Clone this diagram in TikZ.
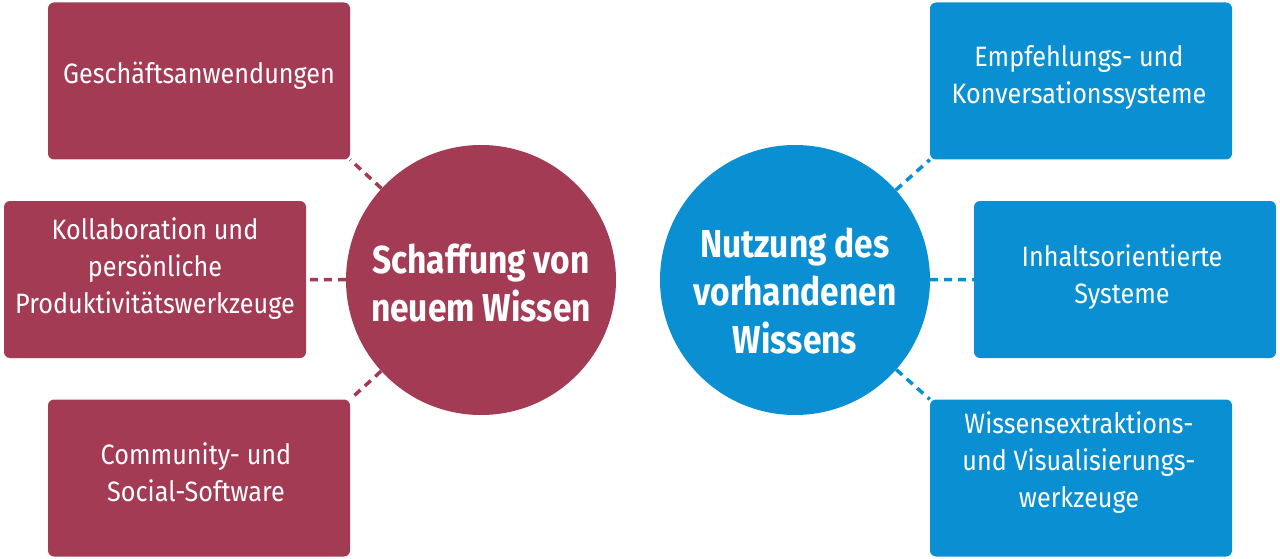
\documentclass[tikz,border=0pt]{standalone}
\usepackage{fontspec}
\setmainfont{Fira Sans}[FakeStretch=0.86]
\newfontfamily\boxfont{Fira Sans}[FakeStretch=0.9]
\usetikzlibrary{backgrounds}
\definecolor{wred}{HTML}{A33B55}
\definecolor{wblue}{HTML}{0A8FD2}
\begin{document}
\begin{tikzpicture}[x=1pt,y=-1pt,
  box/.style={rounded corners=6pt, minimum width=302pt, minimum height=157pt, inner sep=0pt},
  redbox/.style={box, fill=wred},
  bluebox/.style={box, fill=wblue},
  boxtext/.style={text=white, align=center, inner sep=0pt, font=\boxfont\fontsize{28}{37}\selectfont},
  hub/.style={circle, minimum size=270pt, inner sep=0pt},
  hubtext/.style={text=white, align=center, inner sep=0pt, font=\bfseries\fontsize{39}{48}\selectfont},
  conn/.style={line width=3.5pt, dash pattern=on 8pt off 6pt},
]
\useasboundingbox (0,0) rectangle (1280,559);
% left
\node[redbox] (l1) at (199,81) {};
\node[redbox] (l2) at (155,279.5) {};
\node[redbox] (l3) at (199,478) {};
\node[boxtext] (t1) at (199,76) {Geschäftsanwendungen};
\node[boxtext] (t2) at (155,269) {Kollaboration und\\persönliche\\Produktivitätswerkzeuge};
\node[boxtext] (t3) at (196,472) {Community- und\\Social-Software};
\node[hub, fill=wred] (lc) at (481,280) {};
\node[hubtext] (lct) at (481,283) {Schaffung von\\neuem Wissen};
% right
\node[bluebox] (r1) at (1081,81) {};
\node[bluebox] (r2) at (1125,279.5) {};
\node[bluebox] (r3) at (1081,478) {};
\node[boxtext] (u1) at (1079,77) {Empfehlungs- und\\Konversationssysteme};
\node[boxtext] (u2) at (1122,277) {Inhaltsorientierte\\Systeme};
\node[boxtext] (u3) at (1079,463) {Wissensextraktions-\\und Visualisierungs-\\werkzeuge};
\node[hub, fill=wblue] (rc) at (795,280) {};
\node[hubtext] (rct) at (795,291) {Nutzung des\\vorhandenen\\Wissens};
\begin{scope}[on background layer]
\draw[conn, wred] (lc) -- (l1.south east);
\draw[conn, wred] (lc) -- (l2.east);
\draw[conn, wred] (lc) -- (l3.north east);
\draw[conn, wblue] (rc) -- (r1.south west);
\draw[conn, wblue] (rc) -- (r2.west);
\draw[conn, wblue] (rc) -- (r3.north west);
\end{scope}
\end{tikzpicture}
\end{document}
